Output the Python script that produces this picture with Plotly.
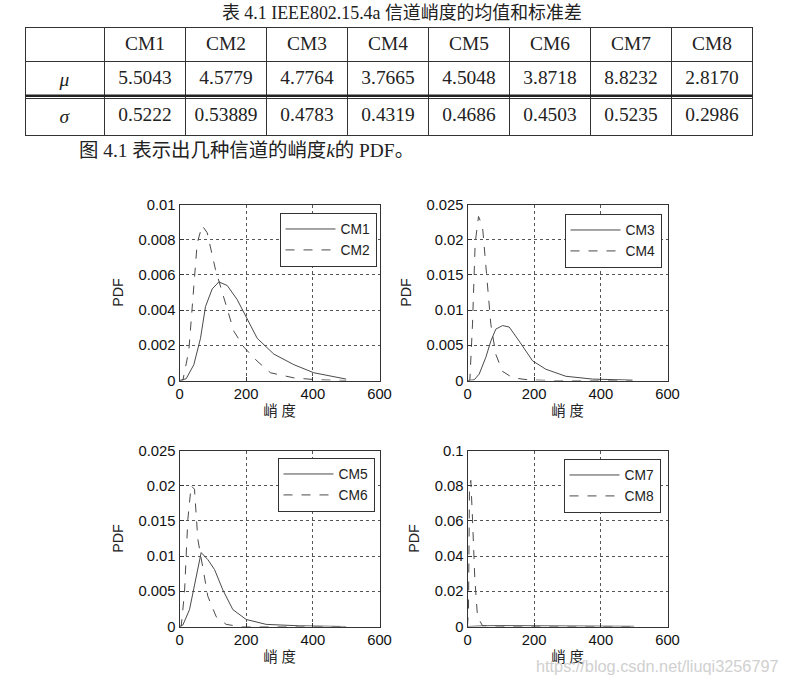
import plotly.graph_objects as go

# table data
channels = ['CM1', 'CM2', 'CM3', 'CM4', 'CM5', 'CM6', 'CM7', 'CM8']
mu_vals = ['5.5043', '4.5779', '4.7764', '3.7665', '4.5048', '3.8718', '8.8232', '2.8170']
sigma_vals = ['0.5222', '0.53889', '0.4783', '0.4319', '0.4686', '0.4503', '0.5235', '0.2986']

# curves (kurtosis vs PDF)
cm1_x = [0, 20, 43, 63, 78, 98, 118, 143, 173, 203, 233, 283, 343, 403, 463, 500]
cm1_y = [0, 0.0001, 0.0009, 0.0024, 0.0042, 0.0052, 0.0056, 0.0054, 0.0046, 0.0035, 0.0024, 0.0015, 0.0009, 0.00044, 0.0002, 0.00008]
cm2_x = [0, 10, 28, 43, 53, 68, 83, 108, 138, 163, 193, 233, 273, 343, 413, 500]
cm2_y = [0, 0, 0.0017, 0.0051, 0.0078, 0.0088, 0.0084, 0.0063, 0.0044, 0.0028, 0.0019, 0.0011, 0.00044, 0.00015, 0.00004, 0]

cm3_x = [0, 20, 35, 55, 70, 85, 105, 125, 155, 195, 235, 295, 375, 495]
cm3_y = [0, 0.0001, 0.0009, 0.0033, 0.0056, 0.0073, 0.0078, 0.0076, 0.0056, 0.0028, 0.0016, 0.0006, 0.0002, 0.00005]
cm4_x = [0, 7, 15, 23, 33, 45, 57, 70, 85, 105, 135, 180, 250, 495]
cm4_y = [0, 0, 0.008, 0.0195, 0.0233, 0.0219, 0.0152, 0.008, 0.0037, 0.0013, 0.0004, 0.0001, 0, 0]

cm5_x = [0, 10, 30, 50, 65, 85, 105, 130, 160, 200, 260, 360, 500]
cm5_y = [0, 0.0002, 0.0024, 0.0071, 0.0105, 0.0095, 0.0081, 0.0052, 0.0024, 0.001, 0.0003, 0.0001, 0]
cm6_x = [0, 5, 15, 25, 35, 45, 55, 70, 85, 110, 140, 180, 500]
cm6_y = [0, 0, 0.0048, 0.0152, 0.02, 0.0195, 0.0124, 0.0081, 0.0043, 0.0014, 0.0003, 0, 0]

cm7_x = [0, 20, 50, 100, 200, 300, 400, 500]
cm7_y = [0, 0.0002, 0.0004, 0.0005, 0.0004, 0.0003, 0.0002, 0.0001]
cm8_x = [0, 3, 6, 10, 15, 22, 30, 45, 100, 500]
cm8_y = [0, 0.01, 0.08, 0.083, 0.061, 0.027, 0.0057, 0.0004, 0, 0]

x_ticks = [0, 200, 400, 600]
y_ticks_1 = [0, 0.002, 0.004, 0.006, 0.008, 0.01]
y_text_1 = ['0', '0.002', '0.004', '0.006', '0.008', '0.01']
y_ticks_2 = [0, 0.005, 0.01, 0.015, 0.02, 0.025]
y_text_2 = ['0', '0.005', '0.01', '0.015', '0.02', '0.025']
y_ticks_4 = [0, 0.02, 0.04, 0.06, 0.08, 0.1]
y_text_4 = ['0', '0.02', '0.04', '0.06', '0.08', '0.1']

# reference is 785x685; the capture shrinks the page by ~785/801 and shifts it a little,
# so draw a bit larger and nudge everything up-left
REF_W, REF_H = 785, 685
W, H = 801, 701
K = W / REF_W
DX, DY = 3.5, 7.5
SERIF = 'Liberation Serif, Noto Sans CJK SC'
SANS = 'Liberation Sans, Arial, Noto Sans CJK SC'
INK = '#222222'
CURVE = '#4a4a4a'


def px_x(p):
    return (p - DX) / REF_W


def px_y(p):
    return 1 - (p - DY) / REF_H


def fs(s):
    return round(s * K, 1)


fig = go.Figure()

# table 4.1
fig.add_trace(go.Table(
    domain=dict(x=[px_x(25), px_x(752)], y=[px_y(140), px_y(26.7)]),
    columnwidth=[79] + [81] * len(channels),
    header=dict(values=[''] + channels, height=fs(33.5), align='center',
                fill_color='white', line=dict(color='#333333', width=1),
                font=dict(family=SERIF, size=fs(19), color=INK)),
    cells=dict(values=[['<i>μ</i>', '<i>σ</i>']] + [[m, s] for m, s in zip(mu_vals, sigma_vals)],
               height=fs(30), align='center', fill_color='white',
               line=dict(color='#333333', width=1),
               font=dict(family=SERIF, size=fs(19), color=INK)),
))

# the four panels: (xaxis id, yaxis id, series, x-domain px, y-domain px, ticks, legend)
panels = [
    ('x', 'y', [('CM1', cm1_x, cm1_y, 'solid'), ('CM2', cm2_x, cm2_y, 'dash')],
     (179, 379), (204, 380), 0.01, y_ticks_1, y_text_1, 'legend', (376, 212)),
    ('x2', 'y2', [('CM3', cm3_x, cm3_y, 'solid'), ('CM4', cm4_x, cm4_y, 'dash')],
     (467, 667), (204, 380), 0.025, y_ticks_2, y_text_2, 'legend2', (661, 213)),
    ('x3', 'y3', [('CM5', cm5_x, cm5_y, 'solid'), ('CM6', cm6_x, cm6_y, 'dash')],
     (179, 379), (450, 626), 0.025, y_ticks_2, y_text_2, 'legend3', (374, 457)),
    ('x4', 'y4', [('CM7', cm7_x, cm7_y, 'solid'), ('CM8', cm8_x, cm8_y, 'dash')],
     (467, 667), (450, 626), 0.1, y_ticks_4, y_text_4, 'legend4', (660, 458)),
]

layout_axes = {}
legends = {}
for xa, ya, series, xd, yd, ymax, yt, ytxt, leg, lpos in panels:
    for name, xs, ys, dash in series:
        fig.add_trace(go.Scatter(x=xs, y=ys, mode='lines', name=name, xaxis=xa, yaxis=ya,
                                 legend=leg,
                                 line=dict(color=CURVE, width=1, dash='dash' if dash == 'dash' else 'solid')))
    xkey = 'xaxis' + xa[1:]
    ykey = 'yaxis' + ya[1:]
    common = dict(showline=True, mirror=True, linecolor='#333333', linewidth=1,
                  ticks='inside', ticklen=4, tickcolor='#333333',
                  showgrid=True, gridcolor='#555555', griddash='dot', gridwidth=1,
                  zeroline=False, tickfont=dict(family=SANS, size=fs(14.5), color='#111111'))
    layout_axes[xkey] = dict(domain=[px_x(xd[0]), px_x(xd[1])], anchor=ya, range=[0, 600],
                             tickvals=x_ticks, ticktext=[str(v) for v in x_ticks],
                             title=dict(text='峭 度', standoff=4,
                                        font=dict(family=SANS, size=fs(14), color=INK)),
                             **common)
    layout_axes[ykey] = dict(domain=[px_y(yd[1]), px_y(yd[0])], anchor=xa, range=[0, ymax],
                             tickvals=yt, ticktext=ytxt,
                             title=dict(text='PDF', standoff=11,
                                        font=dict(family=SANS, size=fs(14), color=INK)),
                             **common)
    legends[leg] = dict(x=px_x(lpos[0]), y=px_y(lpos[1]), xanchor='right', yanchor='top',
                        bgcolor='white', bordercolor='#333333', borderwidth=1,
                        font=dict(family=SANS, size=fs(13.5), color=INK),
                        itemwidth=50, tracegroupgap=2)

fig.update_layout(**layout_axes, **legends)

# thick rule below the mu row
fig.add_shape(type='line', xref='paper', yref='paper', x0=px_x(25), x1=px_x(752),
              y0=px_y(95.3), y1=px_y(95.3), line=dict(color='#222222', width=2.5))

annotations = [
    dict(text='表 4.1 IEEE802.15.4a 信道峭度的均值和标准差', x=px_x(401), y=px_y(12),
         font=dict(family=SERIF, size=fs(17.5), color=INK)),
    dict(text='图 4.1 表示出几种信道的峭度<i>k</i>的 PDF。', x=px_x(76), y=px_y(150),
         xanchor='left', font=dict(family=SERIF, size=fs(19), color=INK)),
    dict(text='https://blog.csdn.net/liuqi3256797', x=px_x(780), y=px_y(665),
         xanchor='right', font=dict(family=SANS, size=fs(16), color='#d0d0d0')),
]
for a in annotations:
    a.setdefault('xanchor', 'center')
    fig.add_annotation(xref='paper', yref='paper', yanchor='middle', showarrow=False, **a)

fig.update_layout(width=W, height=H, margin=dict(l=0, r=0, t=0, b=0),
                  paper_bgcolor='white', plot_bgcolor='white', showlegend=True)

fig.write_html("out.html", config={'displayModeBar': False},
               post_script="document.body.style.margin='0';")
